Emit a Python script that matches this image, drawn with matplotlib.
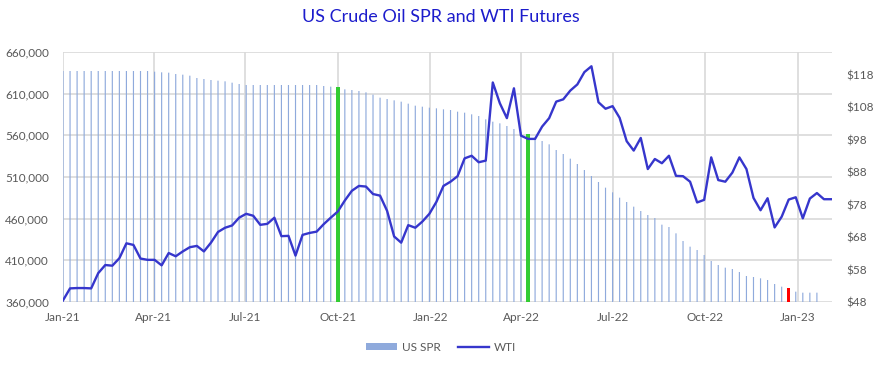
import datetime as dt
import matplotlib
matplotlib.use("Agg")
import matplotlib.pyplot as plt
import matplotlib.dates as mdates
from matplotlib.patches import Patch
from matplotlib.lines import Line2D
from matplotlib.ticker import FuncFormatter

plt.rcParams['font.family'] = ['Lato', 'DejaVu Sans']

START = dt.date(2021, 1, 1)

# weekly US SPR stocks (thousand barrels), weeks ending Friday from Jan 1 2021
spr = [
    637200, 637200, 637200, 637200, 637200, 637200, 637200, 637200, 637200,
    637200, 637200, 637200, 637200,
    636400, 635600, 635200, 633600, 632800, 631600, 628800, 627600, 626400,
    625600, 624800, 623200, 621600,
    620400, 620400, 620400, 620400, 620400, 620400, 620400, 620400, 620400,
    620400, 620400,
    619200, 618400, 617600,
    615200, 614400, 613200, 611600, 608800, 605200, 603600, 602000, 600400,
    598000, 595600, 594400, 593200,
    # 2022
    592400, 591200, 590400, 588400, 587200, 585200, 583200, 579200, 576400,
    574400, 571200, 567600, 564000, 561600, 557600, 553200, 549200, 542400,
    537600, 532000, 525600, 518400, 511200, 504000, 497200, 491600, 485200,
    480000, 474400, 469200, 464400, 460800, 452800, 450000, 442400, 433200,
    426400, 422400, 416400, 409200, 404400, 401200, 399600, 396000, 391200,
    390000, 388400, 386400, 381600, 378400, 376400, 372400,
    # 2023
    371200, 371200, 371200,
]

# weekly WTI front-month futures close ($/bbl)
wti = [
    48.5, 52.2, 52.3, 52.3, 52.2, 56.9, 59.4, 59.2, 61.5, 66.1, 65.6, 61.4,
    61.0, 61.0, 59.3, 63.1, 62.1, 63.6, 64.9, 65.3, 63.6, 66.3, 69.6, 70.9,
    71.6, 74.0, 75.2, 74.6, 71.8, 72.1, 74.0, 68.3, 68.4, 62.3, 68.7, 69.3,
    69.7, 72.0, 74.0, 75.9, 79.3, 82.3, 83.8, 83.6, 81.3, 80.8, 76.1, 68.2,
    66.3, 71.7, 70.9, 72.8, 75.2,
    # 2022
    78.9, 83.8, 85.1, 86.8, 92.3, 93.1, 91.1, 91.6, 115.7, 109.3, 104.7,
    113.9, 99.3, 98.3, 98.3, 102.1, 104.7, 109.8, 110.5, 113.2, 115.1, 118.9,
    120.7, 109.6, 107.6, 108.4, 104.8, 97.6, 94.7, 98.6, 89.0, 92.1, 90.8,
    93.1, 86.9, 86.8, 85.1, 78.7, 79.5, 92.6, 85.6, 85.1, 87.9, 92.6, 89.0,
    80.1, 76.3, 80.0, 71.0, 74.3, 79.6, 80.3,
    # 2023
    73.8, 79.9, 81.6, 79.7, 79.7,
]

# weeks to highlight: index -> colour
highlights = {39: '#33CC33', 66: '#33CC33', 103: '#FF0000'}
highlight_width = {39: 4.2, 66: 4.2, 103: 3.4}

spr_dates = [START + dt.timedelta(days=7 * i) for i in range(len(spr))]
wti_dates = [START + dt.timedelta(days=7 * i) for i in range(len(wti))]

fig = plt.figure(figsize=(8.82, 3.68), dpi=100)
ax = fig.add_axes([63 / 882, 1 - 302 / 368, (832 - 63) / 882, (302 - 52) / 368])
ax2 = ax.twinx()

base = 360000
bars = ax.bar(spr_dates, [v - base for v in spr], bottom=base, width=1.15,
              color='#8FAADC', linewidth=0, zorder=2)
for b in bars:
    b.set_snap(False)
for i, c in highlights.items():
    ax.bar([spr_dates[i]], [spr[i] - base], bottom=base, width=highlight_width[i],
           color=c, linewidth=0, zorder=3)

ax2.plot(wti_dates, wti, color='#3636CC', linewidth=1.7, zorder=4)

ax.set_ylim(360000, 660000)
ax.set_yticks(range(360000, 660001, 50000))
ax.yaxis.set_major_formatter(FuncFormatter(lambda v, p: f"{int(v):,}"))
ax2.set_ylim(48, 125.1)
ax2.set_yticks(range(48, 119, 10))
ax2.yaxis.set_major_formatter(FuncFormatter(lambda v, p: f"${int(v)}"))

ax.set_xlim(dt.date(2021, 1, 1), dt.date(2023, 2, 4))
ax.xaxis.set_major_locator(mdates.MonthLocator(bymonth=[1, 4, 7, 10]))
ax.xaxis.set_major_formatter(mdates.DateFormatter('%b-%y'))

ax.set_axisbelow(True)
ax.grid(True, color='#D9D9D9', linewidth=1.2, zorder=0)
for a in (ax, ax2):
    for s in a.spines.values():
        s.set_visible(False)
    a.tick_params(length=0, labelsize=8.5, labelcolor='#595959')
ax.tick_params(axis='y', pad=10)
ax2.tick_params(axis='y', pad=10)
ax.tick_params(axis='x', pad=7)

fig.suptitle('US Crude Oil SPR and WTI Futures', x=0.5, y=0.975,
             fontsize=13, color='#1C1CCC')

handles = [Patch(facecolor='#8FAADC', edgecolor='none'),
           Line2D([0], [0], color='#3636CC', linewidth=1.7)]
fig.legend(handles, ['US SPR', 'WTI'], loc='center', bbox_to_anchor=(0.5, 0.057),
           ncol=2, frameon=False, fontsize=8.5, labelcolor='#595959',
           handlelength=2.6, handleheight=0.6, columnspacing=1.5, handletextpad=0.4)

fig.savefig('out.png', dpi=100)
